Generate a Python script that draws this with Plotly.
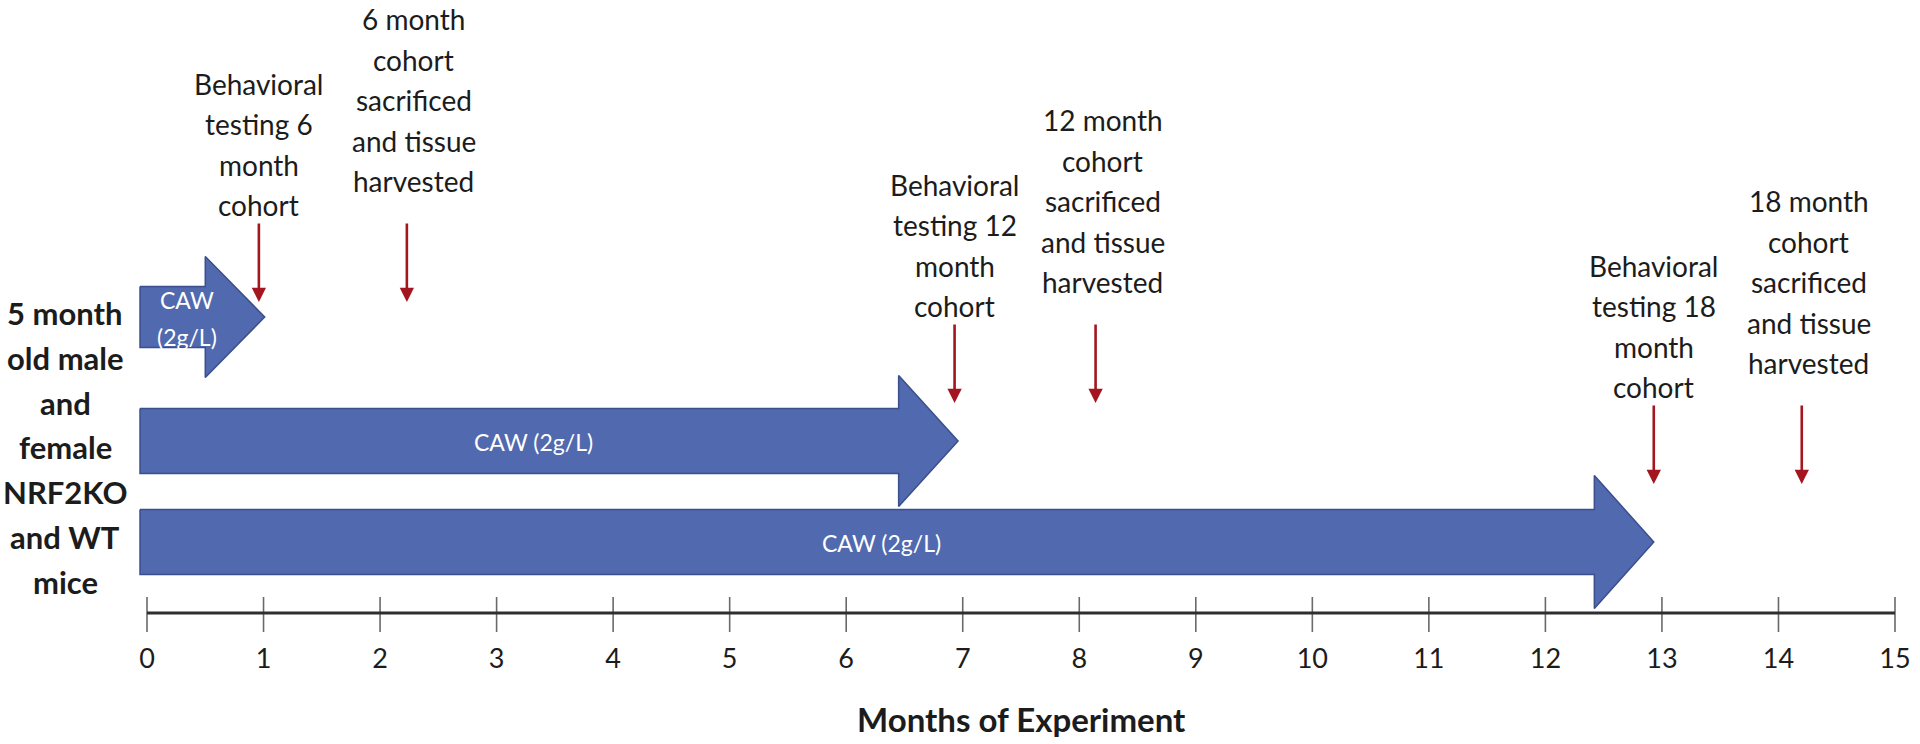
import plotly.graph_objects as go

# ---------------- data ----------------
months = list(range(16))
tick_labels = [str(m) for m in months]
axis_title = "Months of Experiment"

subject_label = ["5 month", "old male", "and", "female", "NRF2KO", "and WT", "mice"]

# treatment arrows (months)
treat_start = [-0.06, -0.06, -0.06]
treat_end = [1.01, 6.96, 12.93]
treat_labels = [["CAW", "(2g/L)"], ["CAW (2g/L)"], ["CAW (2g/L)"]]

# events (months)
behav_month = [0.96, 6.93, 12.93]
behav_labels = [
    ["Behavioral", "testing 6", "month", "cohort"],
    ["Behavioral", "testing 12", "month", "cohort"],
    ["Behavioral", "testing 18", "month", "cohort"],
]
sacr_month = [2.23, 8.14, 14.20]
sacr_labels = [
    ["6 month", "cohort", "sacrificed", "and tissue", "harvested"],
    ["12 month", "cohort", "sacrificed", "and tissue", "harvested"],
    ["18 month", "cohort", "sacrificed", "and tissue", "harvested"],
]

# ---------------- layout constants (pixel rows) ----------------
W, H = 1920, 744
PX0, PX15 = 147.0, 1895.0
scale = (PX15 - PX0) / 15.0
r0 = -PX0 / scale
r1 = r0 + W / scale

lane_center = [317, 441, 542]
shaft_half = [30.5, 32.5, 32.5]
head_half = [60.5, 65.5, 66.5]
head_len = 0.51

event_top = [222, 323, 404]
event_len = 80

FILL = "#5169AE"
EDGE = "#3A4F8C"
RED = "#A3161F"
TXT = "#1c1c1c"
FONT = "Lato"

fig = go.Figure()

# treatment arrows
for i in range(3):
    s, e = treat_start[i], treat_end[i]
    hb = e - head_len
    c, sh, hh = lane_center[i], shaft_half[i], head_half[i]
    xs = [s, hb, hb, e, hb, hb, s, s]
    ys = [c - sh, c - sh, c - hh, c, c + hh, c + sh, c + sh, c - sh]
    fig.add_trace(go.Scatter(x=xs, y=ys, mode="lines", fill="toself",
                             fillcolor=FILL, line=dict(color=EDGE, width=1.5),
                             hoverinfo="skip"))

annotations = []

def add_lines(lines, x, y_first, spacing, size, color=TXT, bold=False,
              xref="x", xshift=0):
    for k, t in enumerate(lines):
        txt = f"<b>{t}</b>" if bold else t
        annotations.append(dict(x=x, y=y_first + k * spacing, xref=xref, yref="y",
                                text=txt, showarrow=False, xshift=xshift,
                                xanchor="center", yanchor="middle",
                                font=dict(family=FONT, size=size, color=color)))

# treatment labels
for i in range(3):
    hb = treat_end[i] - head_len
    xm = (treat_start[i] + hb) / 2
    lines = treat_labels[i]
    n = len(lines)
    sp = 37
    y0 = lane_center[i] + 1 - sp * (n - 1) / 2
    add_lines(lines, xm, y0, sp, 23, color="white", xshift=14)

# event arrows + labels
for i in range(3):
    top = event_top[i]
    bot = top + event_len
    for m in (behav_month[i], sacr_month[i]):
        annotations.append(dict(x=m, y=bot, ax=m, ay=top, xref="x", yref="y",
                                axref="x", ayref="y", text="", showarrow=True,
                                arrowhead=2, arrowsize=1.1, arrowwidth=2.6,
                                arrowcolor=RED, standoff=0))
    bl = behav_labels[i]
    add_lines(bl, behav_month[i], top - 17 - 40.5 * (len(bl) - 1), 40.5, 28)
    sl = sacr_labels[i]
    add_lines(sl, sacr_month[i], top - 41 - 40.5 * (len(sl) - 1), 40.5, 28, xshift=7)

# subject label
add_lines(subject_label, 65 / W, 313, 44.8, 31, bold=True, xref="paper")

# axis: ticks
tx, ty = [], []
for m in months:
    tx += [m, m, None]
    ty += [597, 632, None]
fig.add_trace(go.Scatter(x=tx, y=ty, mode="lines",
                         line=dict(color="#6a6a6a", width=1.6), hoverinfo="skip"))
# axis line
fig.add_trace(go.Scatter(x=[months[0], months[-1]], y=[613, 613], mode="lines",
                         line=dict(color="#2e2e2e", width=2.8), hoverinfo="skip"))
# tick labels
fig.add_trace(go.Scatter(x=months, y=[661] * len(months), mode="text",
                         text=tick_labels, textposition="middle center",
                         textfont=dict(family=FONT, size=27, color=TXT),
                         cliponaxis=False, hoverinfo="skip"))

# axis title
annotations.append(dict(x=(months[0] + months[-1]) / 2, y=719, xref="x", yref="y",
                        text=f"<b>{axis_title}</b>", showarrow=False,
                        xanchor="center", yanchor="middle",
                        font=dict(family=FONT, size=33, color=TXT)))

fig.update_layout(
    width=W, height=H,
    margin=dict(l=0, r=0, t=0, b=0),
    paper_bgcolor="white", plot_bgcolor="white",
    showlegend=False, hovermode=False,
    xaxis=dict(range=[r0, r1], visible=False, fixedrange=True),
    yaxis=dict(range=[H, 0], visible=False, fixedrange=True),
    annotations=annotations,
)

fig.write_html("out.html",
               config={"displayModeBar": False, "staticPlot": True},
               post_script="document.body.style.margin='0px';document.body.style.overflow='hidden';")
